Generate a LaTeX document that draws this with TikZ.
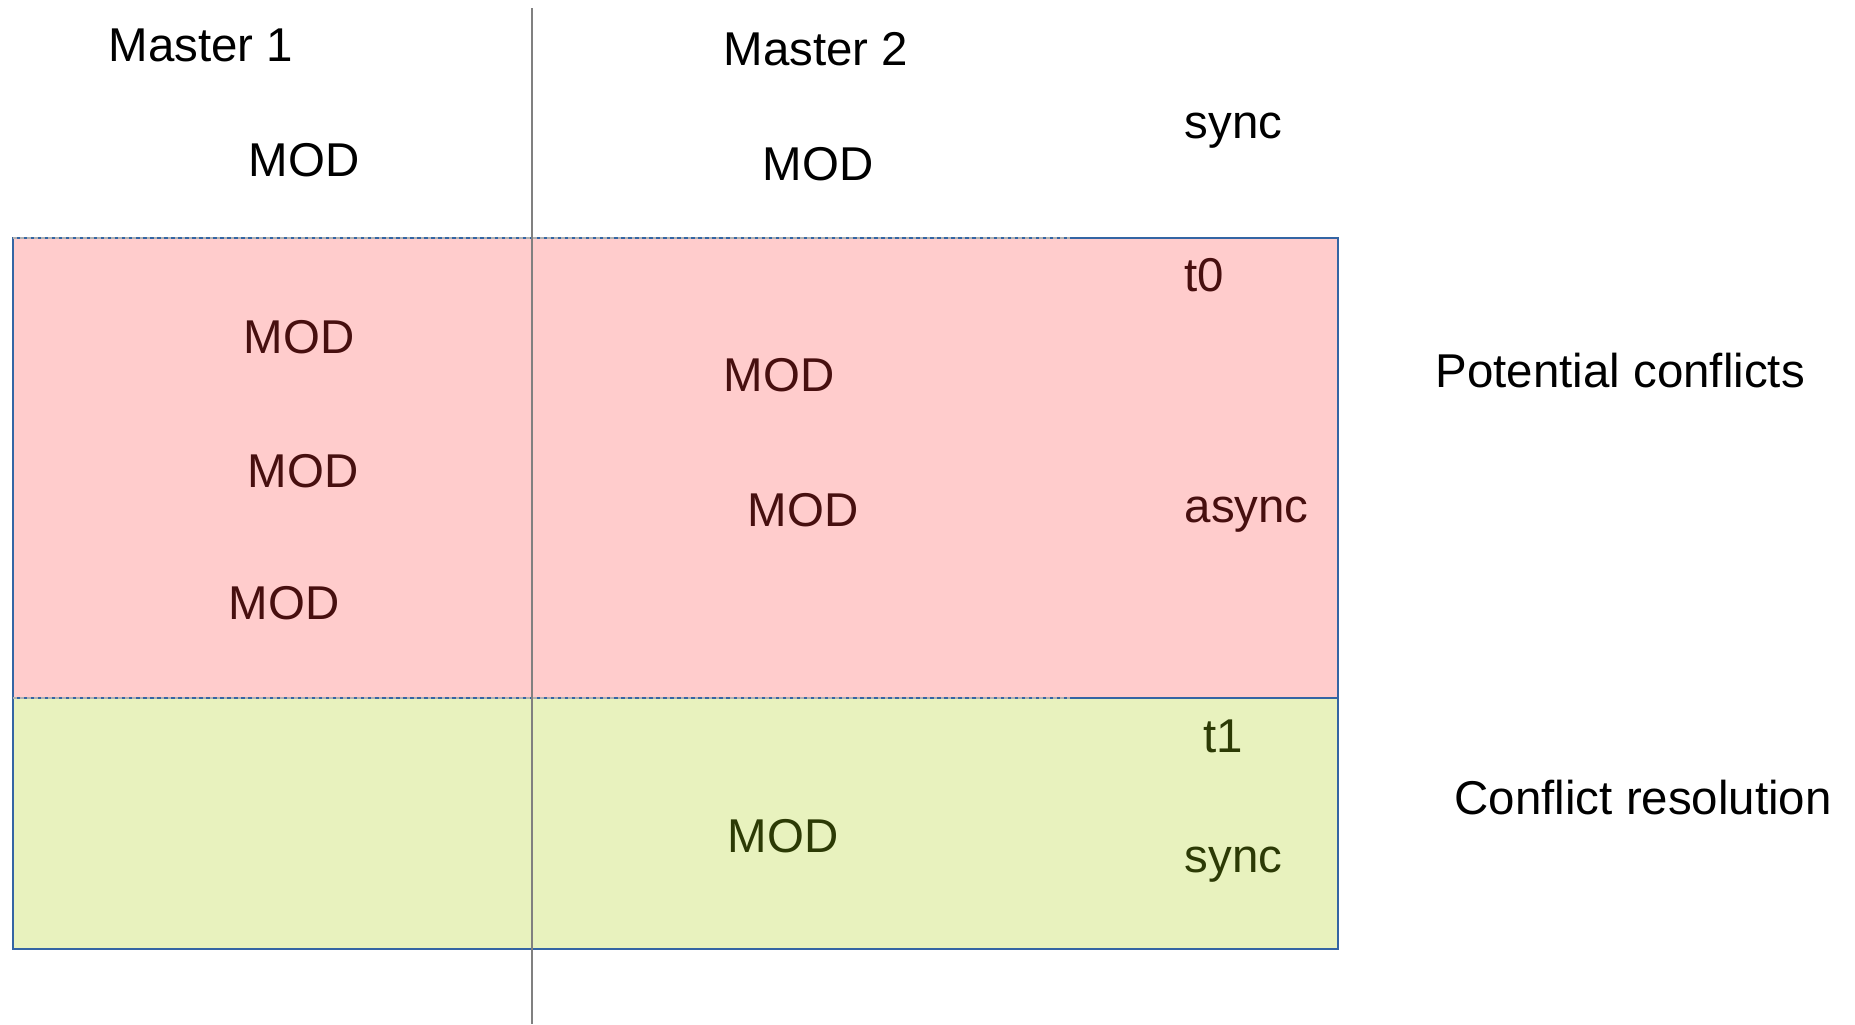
\documentclass[tikz,border=0pt]{standalone}
\usepackage{fontspec}
\setmainfont{Liberation Sans}
\usepackage{xcolor}
\usetikzlibrary{positioning}

\definecolor{conflictfill}{HTML}{FFCCCC}
\definecolor{resolvefill}{HTML}{E8F2BE}
\definecolor{frameblue}{HTML}{3465A4}
\definecolor{conflicttext}{HTML}{470F0F}
\definecolor{resolvetext}{HTML}{2C3A05}

\begin{document}
\begin{tikzpicture}[
  lbl/.style={anchor=base, inner sep=0pt, font=\fontsize{13.5}{16}\selectfont},
  lblleft/.style={lbl, anchor=base west},
  zone/.style={draw=frameblue, line width=0.4pt},
  master/.style={draw=gray, line width=0.6pt},
  sep/.style={draw=gray!60, dash pattern=on 1pt off 1pt, line width=0.3pt}
]
  \useasboundingbox (0,0) rectangle (18.55,-10.24);

  % Zones
  \fill[conflictfill] (0.13,-2.38) rectangle (13.38,-6.98);
  \fill[resolvefill] (0.13,-6.98) rectangle (13.38,-9.49);
  \draw[zone] (0.13,-2.38) rectangle (13.38,-9.49);
  \draw[zone] (0.13,-6.98) -- (13.38,-6.98);
  \draw[sep] (0.13,-2.38) -- (10.70,-2.38);
  \draw[sep] (0.13,-6.98) -- (10.70,-6.98);

  % Masters divider
  \node[lbl] (m1) at (2.01,-0.61) {Master 1};
  \node[lbl] (m2) at (8.16,-0.65) {Master 2};
  \draw[master] (5.32,-0.08) -- (5.32,-10.24);

  % Before t0
  \node[lbl] (mod1a) at (3.04,-1.76) {MOD};
  \node[lbl] (mod2a) at (8.18,-1.80) {MOD};
  \node[lblleft] (synca) at (11.84,-1.38) {sync};

  % Potential conflicts
  \node[lblleft, text=conflicttext] (t0) at (11.84,-2.91) {t0};
  \node[lbl, text=conflicttext] (mod1b) at (2.99,-3.53) {MOD};
  \node[lbl, text=conflicttext] (mod1c) at (3.03,-4.87) {MOD};
  \node[lbl, text=conflicttext] (mod1d) at (2.84,-6.19) {MOD};
  \node[lbl, text=conflicttext] (mod2b) at (7.79,-3.91) {MOD};
  \node[lbl, text=conflicttext] (mod2c) at (8.03,-5.26) {MOD};
  \node[lblleft, text=conflicttext] (async) at (11.84,-5.22) {async};
  \node[lblleft] (conflicts) at (14.35,-3.87) {Potential conflicts};

  % Conflict resolution
  \node[lblleft, text=resolvetext] (t1) at (12.03,-7.52) {t1};
  \node[lbl, text=resolvetext] (mod2d) at (7.83,-8.52) {MOD};
  \node[lblleft, text=resolvetext] (syncb) at (11.84,-8.72) {sync};
  \node[lblleft] (resolution) at (14.54,-8.14) {Conflict resolution};
\end{tikzpicture}
\end{document}
